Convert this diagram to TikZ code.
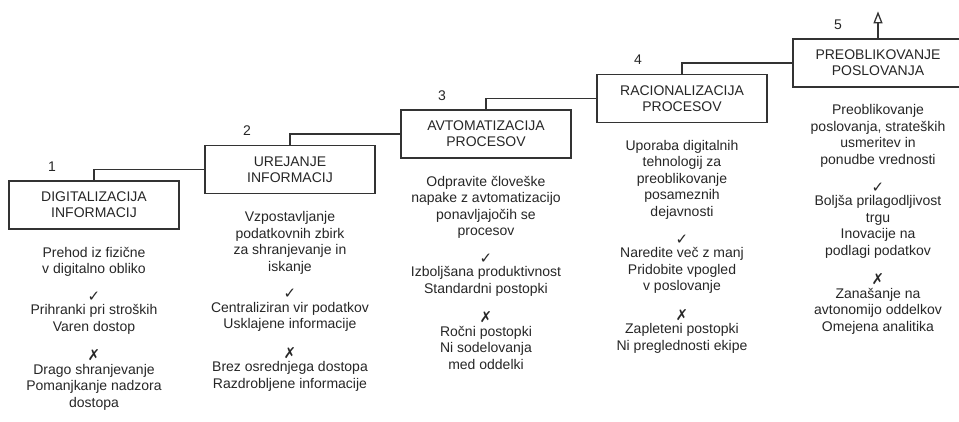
\documentclass[tikz,border=0pt]{standalone}
\usepackage{fontspec}
\setmainfont{Liberation Sans}
\newfontfamily\symfont{DejaVu Sans}
\usepackage{tikz}
\usetikzlibrary{arrows.meta, positioning}

\newcommand{\yes}{{\symfont\fontsize{15}{15}\selectfont ✓}}
\newcommand{\nope}{{\symfont\fontsize{15}{15}\selectfont ✗}}

\begin{document}
\begin{tikzpicture}[
      x=1pt, y=-1pt,
      node distance=15pt,
      stage/.style={draw=black!80, line width=1.3pt, align=center, minimum width=170pt,
                    minimum height=48pt, text=black!85, font=\fontsize{14}{16}\selectfont},
      txt/.style={align=center, inner sep=0pt, text=black!85,
                  font=\fontsize{14}{16.5}\selectfont},
      num/.style={inner sep=0pt, text=black!85, font=\fontsize{14}{16}\selectfont},
      link/.style={draw=black!80, line width=1.3pt}
    ]
    \useasboundingbox (0,0) rectangle (959,421);

    % the five stages, stepping up to the right
    \node[stage] (dig) at (94,205)    {DIGITALIZACIJA\\INFORMACIJ};
    \node[stage] (ure) at (290,169.5) {UREJANJE\\INFORMACIJ};
    \node[stage] (avt) at (486,134)   {AVTOMATIZACIJA\\PROCESOV};
    \node[stage] (rac) at (682,98.5)  {RACIONALIZACIJA\\PROCESOV};
    \node[stage] (pre) at (878,63)    {PREOBLIKOVANJE\\POSLOVANJA};

    \node[num, above=9pt of dig.north, xshift=-42pt] {1};
    \node[num, above=9pt of ure.north, xshift=-43pt] {2};
    \node[num, above=9pt of avt.north, xshift=-44pt] {3};
    \node[num, above=9pt of rac.north, xshift=-44pt] {4};
    \node[num, above=9pt of pre.north, xshift=-40pt] {5};

    \draw[link] (dig.north) |- (ure.west);
    \draw[link] (ure.north) |- (avt.west);
    \draw[link] (avt.north) |- (rac.west);
    \draw[link] (rac.north) |- (pre.west);
    \coordinate[above=27pt of pre.north] (next);
    \draw[link, -{Triangle[open, length=12pt, width=9pt]}] (pre.north) -- (next);

    % descriptions, pros and cons
    \node[txt, below=17pt of dig] (dig-d) {Prehod iz fizične\\v digitalno obliko};
    \node[txt, below=of dig-d] (dig-p) {\yes\\[-3pt]
      Prihranki pri stroških\\Varen dostop};
    \node[txt, below=of dig-p] (dig-c) {\nope\\[-3pt]
      Drago shranjevanje\\Pomanjkanje nadzora\\dostopa};

    \node[txt, below=17pt of ure] (ure-d)
      {Vzpostavljanje\\podatkovnih zbirk\\za shranjevanje in\\iskanje};
    \node[txt, below=of ure-d] (ure-p) {\yes\\[-3pt]
      Centraliziran vir podatkov\\Usklajene informacije};
    \node[txt, below=of ure-p] (ure-c) {\nope\\[-3pt]
      Brez osrednjega dostopa\\Razdrobljene informacije};

    \node[txt, below=17pt of avt] (avt-d)
      {Odpravite človeške\\napake z avtomatizacijo\\ponavljajočih se\\procesov};
    \node[txt, below=of avt-d] (avt-p) {\yes\\[-3pt]
      Izboljšana produktivnost\\Standardni postopki};
    \node[txt, below=of avt-p] (avt-c) {\nope\\[-3pt]
      Ročni postopki\\Ni sodelovanja\\med oddelki};

    \node[txt, below=17pt of rac] (rac-d)
      {Uporaba digitalnih\\tehnologij za\\preoblikovanje\\posameznih\\dejavnosti};
    \node[txt, below=of rac-d] (rac-p) {\yes\\[-3pt]
      Naredite več z manj\\Pridobite vpogled\\v poslovanje};
    \node[txt, below=of rac-p] (rac-c) {\nope\\[-3pt]
      Zapleteni postopki\\Ni preglednosti ekipe};

    \node[txt, below=17pt of pre] (pre-d)
      {Preoblikovanje\\poslovanja, strateških\\usmeritev in\\ponudbe vrednosti};
    \node[txt, below=of pre-d] (pre-p) {\yes\\[-3pt]
      Boljša prilagodljivost\\trgu\\Inovacije na\\podlagi podatkov};
    \node[txt, below=of pre-p] (pre-c) {\nope\\[-3pt]
      Zanašanje na\\avtonomijo oddelkov\\Omejena analitika};
  \end{tikzpicture}
\end{document}
